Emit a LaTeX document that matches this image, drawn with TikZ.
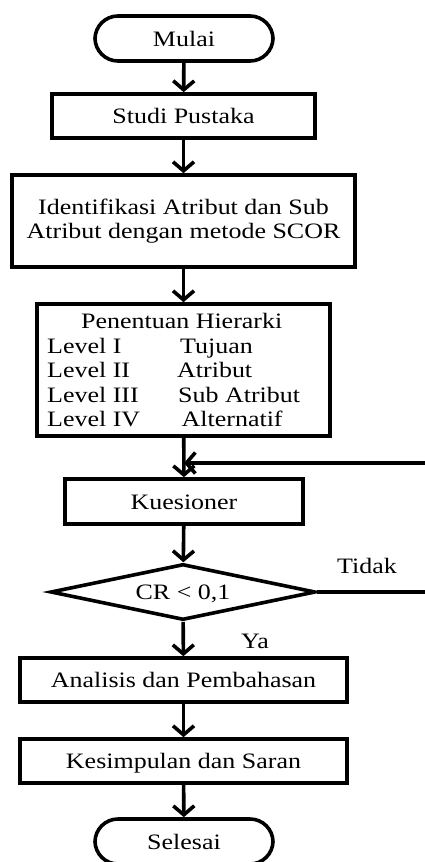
\documentclass[tikz,border=0pt]{standalone}
\usepackage{fontspec}
\setmainfont{Liberation Serif}[FakeStretch=1.18]
\usetikzlibrary{arrows.meta,shapes.geometric}

\tikzset{
  flow/.style={line width=3.6pt, line join=miter},
  terminal/.style={flow, draw, rectangle, rounded corners=23pt,
    minimum width=178pt, minimum height=45pt, inner sep=0pt,
    text height=15pt, text depth=0pt},
  procbox/.style={flow, draw, rectangle, inner sep=0pt,
    text height=15pt, text depth=0pt},
  decision/.style={flow, draw, diamond, aspect=4.48, inner sep=0pt,
    minimum width=265pt, minimum height=56pt,
    text height=15pt, text depth=0pt},
  lbl/.style={inner sep=0pt, anchor=base},
  lvl/.style={inner sep=0pt, anchor=base west},
  arrowline/.style={flow, -{Straight Barb[length=9pt,width=21pt]}},
}

\begin{document}
\begin{tikzpicture}[x=1pt, y=-1pt, font=\fontsize{22}{24.5}\selectfont]
  \useasboundingbox (0,0) rectangle (425,862);
  \clip (0,0) rectangle (425,862);

  % process steps
  \node[terminal] (mulai) at (184,38.5) {Mulai};
  \node[procbox, minimum width=263pt, minimum height=44pt] (studi) at (183.5,116) {Studi Pustaka};
  \node[flow, draw, rectangle, inner sep=0pt, align=center,
        minimum width=343pt, minimum height=92pt] (ident) at (183.5,221)
        {Identifikasi Atribut dan Sub\\Atribut dengan metode SCOR};
  \node[flow, draw, rectangle, minimum width=293pt, minimum height=132pt] (hier) at (183.5,370) {};
  \node[procbox, minimum width=238pt, minimum height=45pt] (kues) at (184,501.5) {Kuesioner};
  \node[decision] (cr) at (183,592) {CR < 0,1};
  \node[procbox, minimum width=327pt, minimum height=44pt] (anal) at (183.5,680) {Analisis dan Pembahasan};
  \node[procbox, minimum width=327pt, minimum height=44pt] (kesim) at (183.5,761) {Kesimpulan dan Saran};
  \node[terminal] (selesai) at (184,841.5) {Selesai};

  % hierarchy levels
  \node[lbl] (hiertitle) at (181.7,328) {Penentuan Hierarki};
  \node[lvl] (l1) at (47,353) {Level I};
  \node[lvl] (v1) at (180,353) {Tujuan};
  \node[lvl] (l2) at (47,377) {Level II};
  \node[lvl] (v2) at (177,377) {Atribut};
  \node[lvl] (l3) at (47,402) {Level III};
  \node[lvl] (v3) at (178,402) {Sub Atribut};
  \node[lvl] (l4) at (47,426) {Level IV};
  \node[lvl] (v4) at (181.5,426) {Alternatif};

  % branch labels
  \node[lbl] (tidak) at (367,573) {Tidak};
  \node[lbl] (ya) at (255,648) {Ya};

  % connectors
  \draw[arrowline] (mulai) -- (studi);
  \draw[arrowline] (studi) -- (ident);
  \draw[arrowline] (ident) -- (hier);
  \draw[arrowline] (hier) -- (kues);
  \draw[arrowline] (kues) -- (cr);
  \draw[arrowline] (cr) -- (anal);
  \draw[arrowline] (anal) -- (kesim);
  \draw[arrowline] (kesim) -- (selesai);

  % loop back from the decision
  \coordinate (loopin) at (184,463);
  \coordinate (loopright) at (445,592);
  \draw[arrowline] (cr.east) -- (loopright) |- (loopin);
\end{tikzpicture}
\end{document}
